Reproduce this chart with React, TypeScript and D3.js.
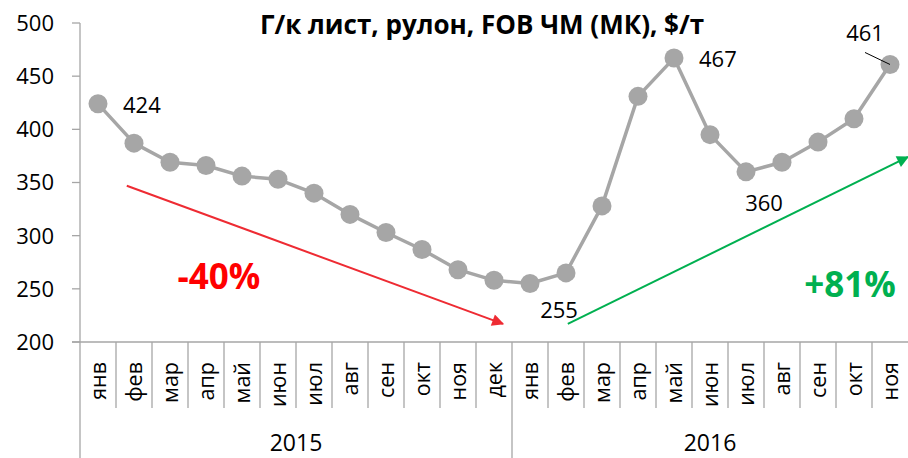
import React from 'react'
import * as d3 from 'd3'

const months2015 = ['янв', 'фев', 'мар', 'апр', 'май', 'июн', 'июл', 'авг', 'сен', 'окт', 'ноя', 'дек']
const months2016 = ['янв', 'фев', 'мар', 'апр', 'май', 'июн', 'июл', 'авг', 'сен', 'окт', 'ноя']
const years = ['2015', '2016']
const prices = [
  424, 387, 369, 366, 356, 353, 340, 320, 303, 287, 268, 258,
  255, 265, 328, 431, 467, 395, 360, 369, 388, 410, 461
]
const yTicks = [200, 250, 300, 350, 400, 450, 500]
// which points get a value label
const labelled = [0, 12, 16, 18, 22]

// trend arrows, in (category index, value)
const downTrend = { from: [0.8, 347], to: [11.25, 217], text: '-40%' }
const upTrend = { from: [13.05, 217], to: [22.5, 374], text: '+81%' }

const W = 908
const H = 458
const font = '"Open Sans", "Liberation Sans", sans-serif'

export default function App() {
  const categories = [
    ...months2015.map((m, i) => ({ key: '2015-' + i, m, year: '2015' })),
    ...months2016.map((m, i) => ({ key: '2016-' + i, m, year: '2016' }))
  ]

  const x = d3
    .scaleBand()
    .domain(categories.map(c => c.key))
    .range([80, W])
  const y = d3.scaleLinear().domain([200, 500]).range([342, 23])
  const bw = x.bandwidth()
  const cx = (i: number) => x(categories[i].key)! + bw / 2
  // index -> x for annotations
  const xi = d3
    .scaleLinear()
    .domain([0, categories.length - 1])
    .range([cx(0), cx(categories.length - 1)])

  const line = d3
    .line<number>()
    .x((d, i) => cx(i))
    .y(d => y(d))

  const axisColor = '#a6a6a6'
  const yearStart = (yr: string) => x(categories.find(c => c.year === yr)!.key)!
  const yearEnd = (yr: string) => {
    const cs = categories.filter(c => c.year === yr)
    return x(cs[cs.length - 1].key)! + bw
  }

  // label offsets relative to the point
  const labelPos: Record<number, { dx: number; dy: number; anchor: string }> = {
    0: { dx: 25, dy: 9, anchor: 'start' },
    12: { dx: 29, dy: 34, anchor: 'middle' },
    16: { dx: 25, dy: 9, anchor: 'start' },
    18: { dx: 18, dy: 39, anchor: 'middle' },
    22: { dx: -25, dy: -23, anchor: 'middle' }
  }

  return (
    <div style={{ position: 'absolute', left: 0, top: 0 }}>
      <svg width={W} height={H} style={{ display: 'block', fontFamily: font }}>
        <defs>
          <marker id="arrRed" viewBox="0 0 10 10" refX="9" refY="5" markerWidth="8.5" markerHeight="6" orient="auto" markerUnits="strokeWidth">
            <path d="M0,0 L10,5 L0,10 z" fill="#ee2b33" />
          </marker>
          <marker id="arrGreen" viewBox="0 0 10 10" refX="9" refY="5" markerWidth="8.5" markerHeight="6" orient="auto" markerUnits="strokeWidth">
            <path d="M0,0 L10,5 L0,10 z" fill="#00b050" />
          </marker>
        </defs>
        <rect width={W} height={H} fill="#fff" />

        {/* title */}
        <text x={482} y={34} textAnchor="middle" fontWeight="bold" fontSize={26} fill="#000">
          Г/к лист, рулон, FOB ЧМ (МК), $/т
        </text>

        {/* y axis */}
        <line x1={80} x2={80} y1={y(500)} y2={H} stroke={axisColor} strokeWidth={1.3} />
        {yTicks.map(t => (
          <g key={t}>
            <line x1={72} x2={80} y1={y(t)} y2={y(t)} stroke={axisColor} strokeWidth={1.3} />
            <text x={54} y={y(t)} dy="0.36em" textAnchor="end" fontSize={22} fill="#000">
              {t}
            </text>
          </g>
        ))}

        {/* x axis */}
        <line x1={72} x2={W} y1={y(200)} y2={y(200)} stroke={axisColor} strokeWidth={1.3} />
        {categories.map((c, i) =>
          i === 0 ? null : (
            <line
              key={c.key}
              x1={x(c.key)}
              x2={x(c.key)}
              y1={y(200)}
              y2={x(c.key) === yearStart(c.year) ? H : 408}
              stroke={axisColor}
              strokeWidth={1.3}
            />
          )
        )}
        {categories.map((c, i) => (
          <text
            key={'l' + c.key}
            transform={`translate(${cx(i) + 8},362) rotate(-90)`}
            textAnchor="end"
            fontSize={21.5}
            fill="#000"
          >
            {c.m}
          </text>
        ))}
        {years.map(yr => (
          <text key={yr} x={(yearStart(yr) + yearEnd(yr)) / 2} y={451} textAnchor="middle" fontSize={23} fill="#000">
            {yr}
          </text>
        ))}

        {/* trend arrows */}
        <line
          x1={xi(downTrend.from[0])}
          y1={y(downTrend.from[1])}
          x2={xi(downTrend.to[0])}
          y2={y(downTrend.to[1])}
          stroke="#ee2b33"
          strokeWidth={2}
          markerEnd="url(#arrRed)"
        />
        <line
          x1={xi(upTrend.from[0])}
          y1={y(upTrend.from[1])}
          x2={xi(upTrend.to[0])}
          y2={y(upTrend.to[1])}
          stroke="#00b050"
          strokeWidth={2}
          markerEnd="url(#arrGreen)"
        />
        <text x={219} y={289} textAnchor="middle" fontWeight="bold" fontSize={35} fill="#ff0000">
          {downTrend.text}
        </text>
        <text x={850} y={297} textAnchor="middle" fontWeight="bold" fontSize={35} fill="#00b050">
          {upTrend.text}
        </text>

        {/* series */}
        <path d={line(prices) || ''} fill="none" stroke="#a6a6a6" strokeWidth={3.5} strokeLinejoin="round" />
        {prices.map((v, i) => (
          <circle key={i} cx={cx(i)} cy={y(v)} r={9.5} fill="#a6a6a6" />
        ))}

        {/* leader line for last label */}
        <line x1={cx(22) - 25} y1={y(prices[22]) - 12} x2={cx(22)} y2={y(prices[22])} stroke="#000" strokeWidth={1} />

        {labelled.map(i => (
          <text
            key={'v' + i}
            x={cx(i) + labelPos[i].dx}
            y={y(prices[i]) + labelPos[i].dy}
            textAnchor={labelPos[i].anchor as any}
            fontSize={22}
            fill="#000"
          >
            {prices[i]}
          </text>
        ))}
      </svg>
    </div>
  )
}
